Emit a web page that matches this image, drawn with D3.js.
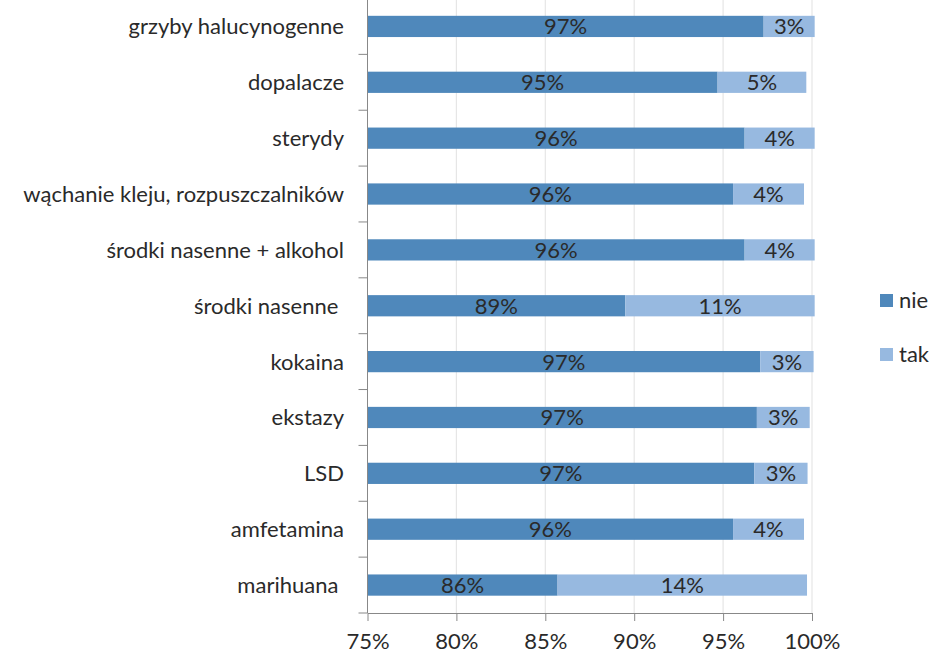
<!DOCTYPE html>
<html><head><meta charset="utf-8">
<script src="https://cdn.jsdelivr.net/npm/d3@7"></script>
<style>body{margin:0;background:#fff}svg{display:block}text{white-space:pre}</style>
</head><body>
<svg id="c" width="932" height="655"></svg>
<script>
const categories = ["grzyby halucynogenne","dopalacze","sterydy","wąchanie kleju, rozpuszczalników","środki nasenne + alkohol","środki nasenne ","kokaina","ekstazy","LSD","amfetamina","marihuana "];
const nieValues = [97.28,94.69,96.21,95.56,96.21,89.5,97.09,96.9,96.75,95.56,85.69];
const takValues = [2.87,4.99,3.94,3.99,3.94,10.65,3.0,2.97,3.0,3.99,14.03];
const nieLabels = ["97%","95%","96%","96%","96%","89%","97%","97%","97%","96%","86%"];
const takLabels = ["3%","5%","4%","4%","4%","11%","3%","3%","3%","4%","14%"];
const seriesNames = ["nie","tak"];
const xTicks = [75,80,85,90,95,100];

(function(){
const colors = {nie:"#4f88bb", tak:"#97b9e0"};
const font = "Lato, 'Open Sans', sans-serif";
const fs = 22;
const txt = "#2a2a2a";
const svg = d3.select("#c");
const pLeft = 367.5, pRight = 812, pTop = -1.5, pBottom = 613;
const x = d3.scaleLinear().domain([75,100]).range([pLeft,pRight]);
const y = d3.scaleBand().domain(categories).range([pTop,pBottom]).paddingInner(0.62).paddingOuter(0.31);

svg.append("g").selectAll("line").data(xTicks.slice(1)).join("line")
  .attr("x1",d=>x(d)).attr("x2",d=>x(d)).attr("y1",pTop).attr("y2",pBottom)
  .attr("stroke","#e6e6e6").attr("stroke-width",1.2);

const rows = categories.map((c,i)=>({c, nie:nieValues[i], tak:takValues[i], nl:nieLabels[i], tl:takLabels[i]}));
const g = svg.append("g");
rows.forEach(r=>{
  const yy = y(r.c), h = y.bandwidth();
  g.append("rect").attr("x",x(75)).attr("y",yy).attr("width",x(r.nie)-x(75)).attr("height",h).attr("fill",colors.nie);
  g.append("rect").attr("x",x(r.nie)).attr("y",yy).attr("width",x(r.nie+r.tak)-x(r.nie)).attr("height",h).attr("fill",colors.tak);
  g.append("text").attr("x",(x(75)+x(r.nie))/2).attr("y",yy+h/2).attr("dy","0.36em")
    .attr("text-anchor","middle").attr("font-family",font).attr("font-size",fs).attr("fill",txt).text(r.nl);
  g.append("text").attr("x",(x(r.nie)+x(r.nie+r.tak))/2).attr("y",yy+h/2).attr("dy","0.36em")
    .attr("text-anchor","middle").attr("font-family",font).attr("font-size",fs).attr("fill",txt).text(r.tl);
});

const boundaries = d3.range(categories.length+1).map(i=>pTop + i*(pBottom-pTop)/categories.length);
svg.append("line").attr("x1",pLeft).attr("x2",pLeft).attr("y1",pTop).attr("y2",pBottom).attr("stroke","#888");
svg.append("g").selectAll("line").data(boundaries).join("line")
  .attr("x1",pLeft-9).attr("x2",pLeft).attr("y1",d=>d).attr("y2",d=>d).attr("stroke","#888");
svg.append("g").selectAll("text").data(categories).join("text")
  .attr("x",344).attr("y",d=>y(d)+y.bandwidth()/2).attr("dy","0.36em").attr("text-anchor","end")
  .attr("font-family",font).attr("font-size",fs).attr("fill",txt).text(d=>d);

const xa = svg.append("g").attr("transform",`translate(0,${pBottom})`)
  .call(d3.axisBottom(x).tickValues(xTicks).tickFormat(d=>d+"%").tickSize(8).tickSizeOuter(0));
xa.select(".domain").attr("stroke","#888");
xa.selectAll(".tick line").attr("stroke","#888");
xa.selectAll("text").attr("font-family",font).attr("font-size",fs).attr("fill",txt).attr("y",20).attr("dy","0.71em");

const lg = svg.append("g");
seriesNames.forEach((s,i)=>{
  const ly = 294 + i*54;
  lg.append("rect").attr("x",880).attr("y",ly).attr("width",13).attr("height",13).attr("fill",colors[s]);
  lg.append("text").attr("x",899).attr("y",ly+6.5).attr("dy","0.36em").attr("font-family",font)
    .attr("font-size",fs).attr("fill",txt).text(s);
});
})();
</script>
</body></html>
